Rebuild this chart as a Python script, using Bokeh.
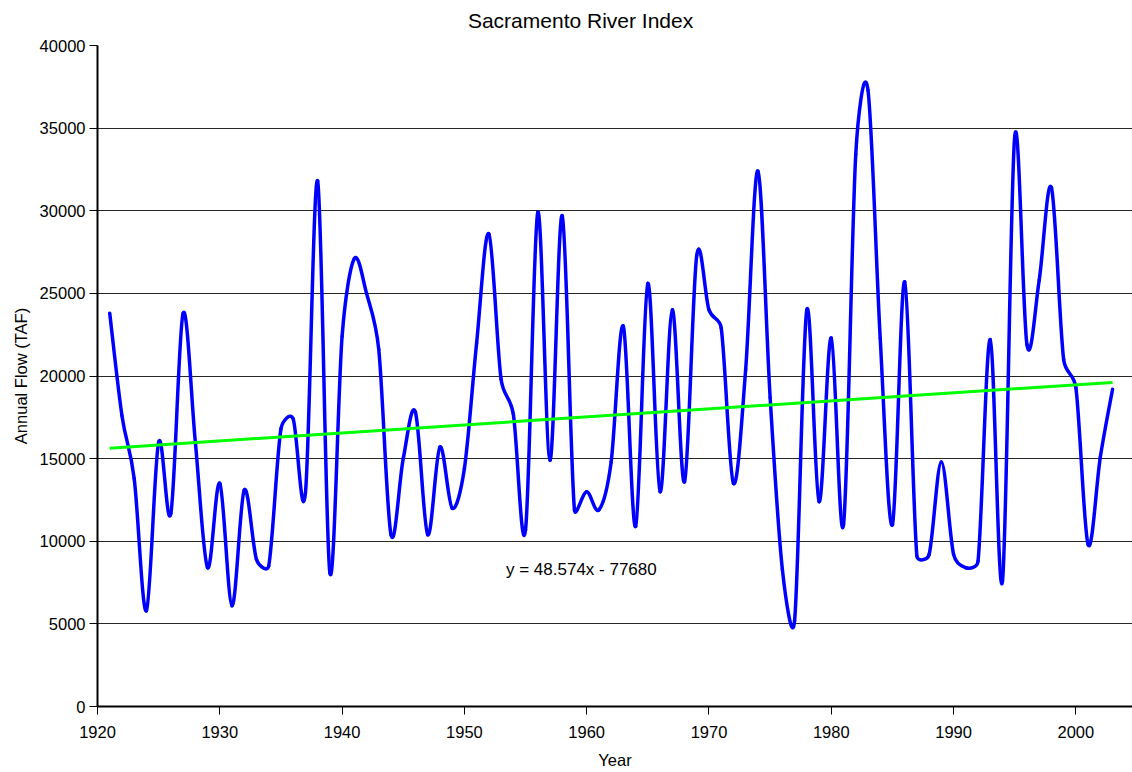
import numpy as np
from bokeh.plotting import figure
from bokeh.models import FixedTicker, Label, Range1d, LinearAxis
from bokeh.embed import file_html
from bokeh.resources import INLINE

# ---- data ----
years = list(range(1921, 2004))
flow = [
    23800, 17600, 13800, 5800, 16000, 11700, 23800, 16000, 8400, 13500,   # 1921-1930
    6100, 13100, 8900, 8500, 16800, 17400, 12900, 31800, 8100, 22400,     # 1931-1940
    27100, 25000, 21600, 10400, 15000, 17800, 10400, 15700, 12000, 14400, # 1941-1950
    22000, 28600, 19800, 17700, 10700, 29900, 14900, 29700, 11900, 13000, # 1951-1960
    11900, 14800, 23000, 10900, 25600, 13000, 24000, 13600, 27300, 24000, # 1961-1970
    22900, 13500, 20400, 32400, 18700, 8300, 5200, 24000, 12400, 22300,   # 1971-1980
    11000, 33400, 37300, 22300, 11000, 25700, 9100, 9200, 14800, 9200,    # 1981-1990
    8400, 8800, 22200, 7600, 34500, 21900, 25800, 31400, 21000, 19300,    # 1991-2000
    9800, 15100, 19200,                                                   # 2001-2003
]
trend_slope = 48.574
trend_intercept = -77680.0
x_ticks = [1920, 1930, 1940, 1950, 1960, 1970, 1980, 1990, 2000]
y_ticks = [0, 5000, 10000, 15000, 20000, 25000, 30000, 35000, 40000]
title_text = "Sacramento River Index"
x_label = "Year"
y_label = "Annual Flow (TAF)"
equation_text = "y = 48.574x - 77680"

FONT = "Liberation Sans"
W, H = 1132, 772
BL, BR, BT, BB = 97, 0, 45, 66
X0, X1 = 1920.0, 2004.63
Y0, Y1 = 0.0, 40000.0
TITLE_X = 1959.5  # horizontal centre of the chart title (layout position)

p = figure(width=W, height=H, output_backend="svg", toolbar_location=None,
           x_range=Range1d(X0, X1), y_range=Range1d(Y0, Y1),
           min_border_left=BL, min_border_right=BR, min_border_top=BT, min_border_bottom=BB)
p.outline_line_color = None
p.background_fill_color = "white"
p.border_fill_color = "white"

# axes
xax = p.xaxis[0]
yax = p.yaxis[0]
xax.ticker = FixedTicker(ticks=x_ticks)
yax.ticker = FixedTicker(ticks=y_ticks)
for ax in (xax, yax):
    ax.axis_line_width = 2
    ax.axis_line_color = "black"
    ax.major_tick_in = 0
    ax.major_tick_out = 8
    ax.major_tick_line_color = "black"
    ax.major_tick_line_width = 1
    ax.minor_tick_line_color = None
    ax.major_label_text_font = FONT
    ax.major_label_text_font_size = "16.5px"
    ax.major_label_text_color = "black"
    ax.axis_label_text_font = FONT
    ax.axis_label_text_font_size = "16.5px"
    ax.axis_label_text_font_style = "normal"
    ax.axis_label_text_color = "black"
xax.axis_label = x_label
yax.axis_label = y_label
xax.major_label_standoff = 11
xax.axis_label_standoff = 10
yax.major_label_standoff = 4
yax.axis_label_standoff = 7
yax.major_label_orientation = "horizontal"

p.xgrid.grid_line_color = None
p.ygrid.grid_line_color = "black"
p.ygrid.grid_line_width = 1
p.ygrid.grid_line_alpha = 0.85

# chart title, drawn as the single label of an otherwise invisible top axis
title_axis = LinearAxis(ticker=FixedTicker(ticks=[TITLE_X]),
                        major_label_overrides={TITLE_X: title_text},
                        axis_line_color=None, major_tick_line_color=None,
                        minor_tick_line_color=None, major_tick_in=0, major_tick_out=0,
                        major_label_standoff=14, major_label_text_font=FONT,
                        major_label_text_font_size="21px", major_label_text_color="black")
p.add_layout(title_axis, "above")

# smoothed series: cubic Bezier segments through each data point (Excel-style
# smoothing, tangent length limited to half the segment length in screen space)
sx = (W - BL - BR) / (X1 - X0)
sy = (H - BT - BB) / (Y1 - Y0)
x = np.array(years, dtype=float)
y = np.array(flow, dtype=float)
xp = np.concatenate([[x[0]], x, [x[-1]]])
yp = np.concatenate([[y[0]], y, [y[-1]]])

def dist(i, j):
    return np.hypot((xp[i] - xp[j]) * sx, (yp[i] - yp[j]) * sy)

n = len(x)
cx0, cy0, cx1, cy1 = [], [], [], []
for k in range(n - 1):
    i0, i1, i2, i3 = k, k + 1, k + 2, k + 3
    d12 = dist(i1, i2)
    d02 = dist(i0, i2)
    d13 = dist(i1, i3)
    f0 = 1.0 / 6.0
    f3 = 1.0 / 6.0
    if d02 > 0 and d02 / 6.0 > d12 / 2.0:
        f0 = d12 / (2.0 * d02)
    if d13 > 0 and d13 / 6.0 > d12 / 2.0:
        f3 = d12 / (2.0 * d13)
    cx0.append(xp[i1] + f0 * (xp[i2] - xp[i0]))
    cy0.append(yp[i1] + f0 * (yp[i2] - yp[i0]))
    cx1.append(xp[i2] - f3 * (xp[i3] - xp[i1]))
    cy1.append(yp[i2] - f3 * (yp[i3] - yp[i1]))

p.bezier(x0=x[:-1], y0=y[:-1], x1=x[1:], y1=y[1:],
         cx0=cx0, cy0=cy0, cx1=cx1, cy1=cy1,
         line_color="#0000FF", line_width=3.5, line_cap="round")

# linear trend line
tx = np.array([years[0], years[-1]], dtype=float)
ty = trend_slope * tx + trend_intercept
p.line(tx, ty, line_color="#00FF00", line_width=3)

# equation label
p.add_layout(Label(x=1953.4, y=8290, text=equation_text, text_font=FONT,
                   text_font_size="17px", text_baseline="middle", text_align="left",
                   text_color="black"))

open("out.html", "w").write(file_html(p, INLINE))
